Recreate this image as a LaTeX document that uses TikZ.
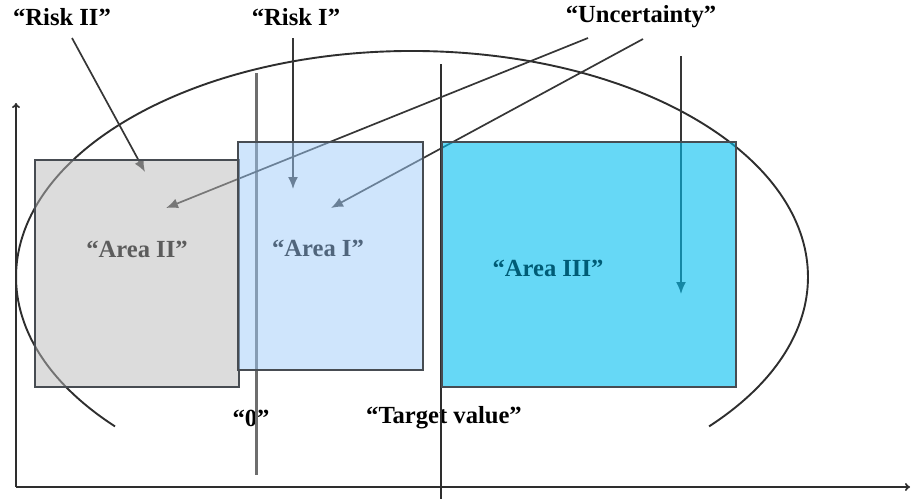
\documentclass[tikz,border=0pt]{standalone}
\usepackage{fontspec}
\setmainfont{Liberation Serif}
\usepackage{tikz}
\usetikzlibrary{arrows.meta}
\definecolor{aline}{HTML}{2E2E2E}
\definecolor{rectline}{HTML}{474C52}
\definecolor{areatwofill}{HTML}{B9B9B9}
\definecolor{areaonefill}{HTML}{9FCBF9}
\definecolor{areathreefill}{HTML}{00BEF0}
\definecolor{areatwotext}{HTML}{5C5C5C}
\definecolor{areaonetext}{HTML}{50657C}
\definecolor{areathreetext}{HTML}{005C76}
\definecolor{zeroline}{HTML}{6E6E6E}
\definecolor{ptrline}{HTML}{363636}
\newcommand{\lblfont}{\fontsize{12.3}{14}\selectfont\bfseries}
\tikzset{lbl/.style={font=\lblfont, inner sep=1pt, anchor=center}}
\tikzset{arealbl/.style={lbl}}
\tikzset{areabox/.style={rectangle, draw=rectline, line width=1pt, fill opacity=0.5, inner sep=0pt, anchor=north west}}
\tikzset{pointer/.style={draw=ptrline, line width=0.85pt, -{Latex[length=6pt,width=5pt]}}}
\tikzset{axis/.style={draw=aline, line width=0.85pt, -{To[length=2.5pt,width=4pt]}}}

\begin{document}
\begin{tikzpicture}[x=0.5pt, y=-0.5pt]
  \useasboundingbox (0,0) rectangle (912,499);

  \coordinate (origin) at (16,487);
  \coordinate (yend) at (16,103);
  \coordinate (xend) at (910,487);
  \draw[axis] (origin) -- (yend);
  \draw[axis] (origin) -- (xend);

  \draw[aline, line width=0.95pt] (115,426.4) arc[start angle=221.4, end angle=-41.4, x radius=198pt, y radius=113pt];

  \node[lbl] (risktwo) at (62,17) {“Risk II”};
  \node[lbl] (riskone) at (296,17) {“Risk I”};
  \node[lbl] (uncert) at (641,17) {“Uncertainty”};
  \node[lbl] (zero) at (251,418) {“0”};
  \node[lbl] (target) at (444,418) {“Target value”};

  \coordinate (zerotop) at (256,73);
  \coordinate (zerobot) at (256,475);
  \coordinate (targettop) at (441,64);
  \coordinate (targetbot) at (441,499);
  \draw[zeroline, line width=1.5pt] (zerotop) -- (zerobot);
  \draw[aline, line width=0.75pt] (targettop) -- (targetbot);

  \coordinate (rtwostart) at (72,38);
  \coordinate (rtwotip) at (145,172);
  \coordinate (ronestart) at (293,38);
  \coordinate (ronetip) at (293,189);
  \coordinate (ustartA) at (588,38);
  \coordinate (utipA) at (166,208);
  \coordinate (ustartB) at (643,39);
  \coordinate (utipB) at (331,208);
  \coordinate (threestart) at (681,56);
  \coordinate (threetip) at (681,294);
  \draw[pointer] (rtwostart) -- (rtwotip);
  \draw[pointer] (ronestart) -- (ronetip);
  \draw[pointer] (ustartA) -- (utipA);
  \draw[pointer] (ustartB) -- (utipB);
  \draw[pointer] (threestart) -- (threetip);

  \node[areabox, fill=areatwofill, minimum width=102pt, minimum height=113.5pt] (areatwo) at (34,159) {};
  \node[areabox, fill=areaonefill, minimum width=92.5pt, minimum height=114pt] (areaone) at (237,141) {};
  \node[areabox, fill=areathreefill, fill opacity=0.6, minimum width=147pt, minimum height=122.5pt] (areathree) at (441,141) {};

  \node[text=areatwotext, arealbl] (areatwolbl) at (137,249) {“Area II”};
  \node[text=areaonetext, arealbl] (areaonelbl) at (318,248) {“Area I”};
  \node[text=areathreetext, arealbl] (areathreelbl) at (548,268) {“Area III”};
\end{tikzpicture}
\end{document}
